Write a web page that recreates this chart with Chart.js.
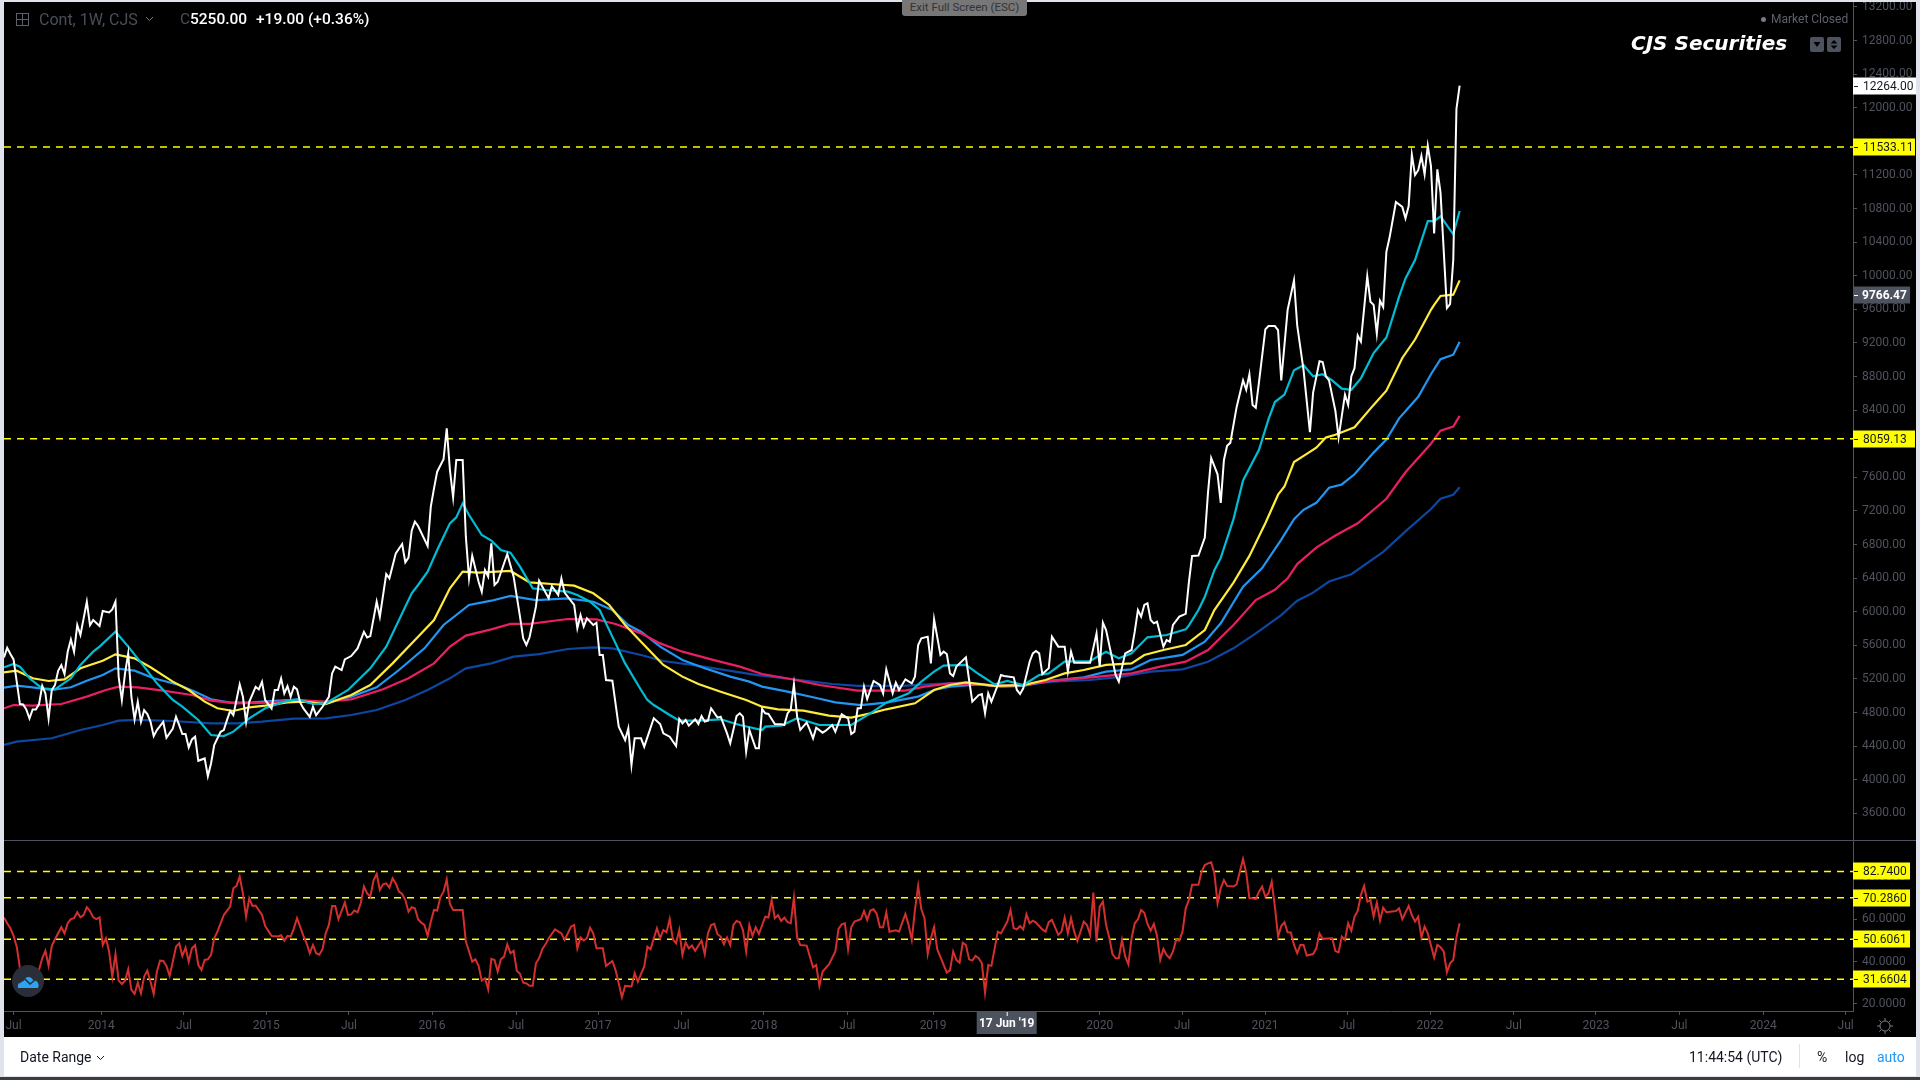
<!DOCTYPE html>
<html>
<head>
<meta charset="utf-8">
<title>CJS Securities</title>
<script src="https://cdn.jsdelivr.net/npm/chart.js@4"></script>
<style>
  html, body { margin: 0; width: 1920px; height: 1080px; overflow: hidden; background: #e0e3eb; }
  body { position: relative; font-family: Roboto, sans-serif; }
  canvas { position: absolute; }
  .lbl { position: absolute; white-space: nowrap; }
  #panel { position: absolute; left: 4px; top: 2px; width: 1912px; height: 1035px; background: #000; }
  #bar { position: absolute; left: 4px; top: 1037px; width: 1912px; height: 39px; background: #fff; }
  #strip { position: absolute; left: 0; top: 1077px; width: 1920px; height: 3px; background: #3a3c40; }
</style>
</head>
<body>
<div id="panel"></div>
<div id="bar"></div>
<div id="strip"></div>
<canvas id="priceChart" width="1912" height="839" style="left:4px;top:2px"></canvas>
<canvas id="rsiChart" width="1912" height="196" style="left:4px;top:841px"></canvas>

<!-- header -->
<svg class="lbl" style="left:16px;top:13px" width="13" height="13"><rect x="0.5" y="0.5" width="12" height="12" fill="none" stroke="#5d606b"/><path d="M6.5 1V12M1 6.5H12" stroke="#5d606b"/></svg>
<div class="lbl" style="left:39px;top:10px;font-size:16px;color:#4a4e59">Cont, 1W, CJS</div>
<svg class="lbl" style="left:145px;top:16px" width="9" height="6"><path d="M1 1L4.5 4.5L8 1" fill="none" stroke="#787b86"/></svg>
<div class="lbl" style="left:180px;top:10px;font-size:15.5px;color:#4a4e59">C</div>
<div class="lbl" style="left:190px;top:10px;font-size:15.5px;font-weight:500;color:#fff">5250.00</div>
<div class="lbl" style="left:256px;top:10px;font-size:15.5px;font-weight:500;color:#fff">+19.00 (+0.36%)</div>
<div class="lbl" style="left:902px;top:0;width:125px;height:16px;background:#777;border-radius:0 0 3px 3px;color:#333;font-size:11.5px;line-height:15px;text-align:center">Exit Full Screen (ESC)</div>
<div class="lbl" style="left:1761px;top:17px;width:5px;height:5px;border-radius:50%;background:#787b86"></div>
<div class="lbl" style="left:1771px;top:12px;font-size:12px;color:#5d606b">Market Closed</div>
<div class="lbl" style="left:1631px;top:31px;font-family:'DejaVu Sans';font-weight:bold;font-style:italic;font-size:20px;color:#fff">CJS Securities</div>
<svg class="lbl" style="left:1810px;top:37px" width="32" height="15">
  <rect width="14" height="15" rx="2" fill="#4c525e"/><path d="M3.5 5H10.5L7 10Z" fill="#000"/>
  <rect x="17" width="14" height="15" rx="2" fill="#4c525e"/><path d="M20.5 6.5H27.5L24 3ZM20.5 8.5H27.5L24 12Z" fill="#000"/>
</svg>

<!-- floating logo -->
<svg class="lbl" style="left:12px;top:965px" width="32" height="32">
  <circle cx="16" cy="16" r="16" fill="#2a2e39"/>
  <path d="M6 23C5 18 9 16 12 15C14 11 19 11 21 15C25 15 28 19 26 23Z" fill="#2ea3f2"/>
  <path d="M7 18L13 14L18 19L23 15" fill="none" stroke="#2a2e39" stroke-width="1.5"/>
</svg>

<!-- gear -->
<svg class="lbl" style="left:1876px;top:1017px" width="18" height="18">
  <circle cx="9" cy="9" r="5" fill="none" stroke="#787b86"/>
  <path d="M9 1V4M9 14V17M1 9H4M14 9H17M3.3 3.3L5.5 5.5M12.5 12.5L14.7 14.7M3.3 14.7L5.5 12.5M12.5 5.5L14.7 3.3" stroke="#787b86"/>
</svg>

<!-- footer -->
<div class="lbl" style="left:20px;top:1049px;font-size:14px;color:#131722">Date Range</div>
<svg class="lbl" style="left:96px;top:1055px" width="9" height="6"><path d="M1 1L4.5 4.5L8 1" fill="none" stroke="#131722"/></svg>
<div class="lbl" style="left:1689px;top:1049px;font-size:14px;color:#131722">11:44:54 (UTC)</div>
<div class="lbl" style="left:1799px;top:1044px;width:1px;height:24px;background:#e0e3eb"></div>
<div class="lbl" style="left:1817px;top:1049px;font-size:14px;color:#131722">%</div>
<div class="lbl" style="left:1845px;top:1049px;font-size:14px;color:#131722">log</div>
<div class="lbl" style="left:1877px;top:1049px;font-size:14px;color:#2196f3">auto</div>

<script>
// x axis is weeks counted from the first bar on the chart
const timeTickWeeks = [3, 30.5, 56.5, 82.3, 108.3, 134.4, 160.8, 186.5, 212.7, 238.6, 264.8, 291.7, 344, 369.9, 395.9, 421.7, 447.7, 474, 499.8, 526, 552.3, 578.2];
const timeTickLabels = ["Jul", "2014", "Jul", "2015", "Jul", "2016", "Jul", "2017", "Jul", "2018", "Jul", "2019", "2020", "Jul", "2021", "Jul", "2022", "Jul", "2023", "Jul", "2024", "Jul"];

const priceTicks = [3600, 4000, 4400, 4800, 5200, 5600, 6000, 6400, 6800, 7200, 7600, 8000, 8400, 8800, 9200, 9600, 10000, 10400, 10800, 11200, 12000, 12400, 12800, 13200];
const rsiTicks = [20, 40, 60, 80];

const priceLevels = [11533.11, 8059.13];
const rsiLevels = [82.74, 70.286, 50.6061, 31.6604];

const lastClose = 12264;
const ma2Last = 9766.47;

const priceWeeks = [0,1,2,3,5,6,7,8,9,10,11,12,13,14,15,16,17,18,19,20,21,22,23,24,25,26,27,28,30,31,33,34,35,36,37,38,39,40,41,42,43,44,45,46,47,48,50,51,53,54,55,56,57,58,59,60,61,63,64,65,66,68,69,70,71,72,74,75,76,77,79,80,81,82,84,85,86,87,88,89,90,91,92,93,94,96,97,98,100,102,103,104,106,107,109,111,113,114,115,117,118,120,121,123,125,126,127,128,129,130,133,134,135,136,138,139,140,141,142,144,145,146,147,149,150,151,152,153,154,155,158,160,161,162,163,164,165,167,168,171,172,174,175,176,179,180,181,182,183,185,186,187,188,189,191,193,195,196,197,198,200,201,204,206,207,209,211,212,213,214,215,217,218,219,220,221,222,224,225,227,228,230,231,232,233,234,236,237,238,239,240,242,244,245,246,247,248,249,250,252,253,254,255,257,258,260,261,263,265,266,267,268,269,270,271,273,275,276,277,279,280,281,283,285,286,287,288,290,291,292,294,295,296,297,298,299,302,303,304,306,307,308,309,310,312,313,314,317,318,319,320,322,323,324,325,326,328,329,331,333,334,335,336,341,343,344,345,346,348,349,350,352,354,355,356,357,358,359,360,361,362,364,365,366,367,369,371,372,373,375,377,378,379,381,382,383,384,385,387,389,390,391,392,393,394,396,397,399,400,401,403,405,406,408,410,411,413,414,415,416,418,419,421,422,423,424,425,426,428,429,430,431,432,433,434,435,437,439,440,441,442,443,444,445,446,447,448,449,450,451,453,454,455,456,457];
const priceValues = [5457,5572,5497,5433,4901,4897,4837,4730,4837,4837,4901,5119,5028,4730,5068,5127,5298,5365,5258,5524,5671,5524,5842,5723,5921,6120,5842,5901,5830,6009,5993,6028,6120,5226,4949,5266,5504,4988,4718,4929,4690,4829,4782,4690,4520,4591,4690,4500,4611,4750,4651,4544,4544,4385,4480,4512,4226,4254,4043,4194,4413,4571,4591,4710,4821,4770,5135,4988,4690,4929,5107,5076,5167,4949,4849,5068,5068,5207,5028,5115,4988,5107,5076,4917,4849,4750,4869,4770,4869,4988,5266,5346,5306,5433,5473,5564,5762,5695,5711,6120,5941,6450,6398,6696,6807,6589,6644,6966,7073,7021,6783,7251,7470,7668,7815,8184,7688,7362,7807,7807,6894,6398,6668,6358,6239,6497,6418,6815,6319,6358,6688,6418,6180,5942,5684,5605,5696,6061,6370,6160,6307,6200,6398,6228,6081,5803,5962,5823,5922,5843,5870,5485,5485,5188,5180,4632,4473,4612,4176,4494,4494,4394,4732,4664,4553,4513,4402,4724,4672,4712,4644,4720,4664,4759,4692,4704,4851,4740,4752,4553,4434,4759,4791,4752,4335,4593,4375,4375,4843,4791,4783,4664,4660,4652,4791,4839,5136,4752,4593,4680,4593,4494,4621,4561,4585,4652,4573,4779,4732,4545,4573,4851,4851,5109,4962,5176,5128,5029,5315,5029,5156,5069,5196,5148,5228,5605,5684,5704,5386,5910,5486,5525,5497,5267,5236,5347,5458,5188,4930,5009,5021,4791,5029,4930,5128,5247,5236,5220,5069,5021,5089,5406,5505,5533,5505,5259,5327,5704,5585,5585,5287,5525,5394,5394,5743,5347,5870,5783,5426,5247,5168,5505,5545,5763,6021,5942,6081,6101,5902,5862,5882,5585,5664,5644,5843,5942,5975,6349,6665,6670,6884,7418,7831,7637,7297,7807,7977,8011,8439,8755,8643,8828,8463,8429,8730,9362,9401,9401,9352,8755,9595,9945,9411,8876,8138,8609,8983,8973,8803,8755,8390,8074,8585,8463,8803,8900,9289,9216,9994,9692,9654,9313,9702,9629,10285,10455,10878,10820,10684,10830,11442,11199,11257,11427,11208,11549,11306,10504,11267,10990,9615,9663,10188,11986,12264];

const cyanWeeks = [0,3,5,8,12,16,21,24,28,30,35,39,44,48,53,56,61,65,69,72,77,82,88,92,97,101,108,115,120,128,130,133,136,140,142,144,146,150,153,156,159,162,166,170,177,180,184,187,191,195,200,202,204,209,212,218,225,231,238,239,244,249,256,266,272,277,284,288,292,295,302,306,311,315,320,325,328,333,341,346,350,354,359,365,371,372,375,377,380,382,386,389,394,397,399,402,405,408,411,414,417,420,423,426,430,434,438,440,443,447,449,451,455,457];
const cyanValues = [5339,5378,5347,5208,5089,5077,5208,5367,5525,5585,5763,5585,5347,5148,4950,4870,4712,4533,4521,4573,4732,4851,4930,4958,4902,4910,5069,5327,5585,6220,6319,6478,6735,7053,7124,7291,7152,6914,6847,6735,6704,6537,6279,6259,6239,6200,6120,6021,5704,5386,5069,4950,4890,4771,4704,4704,4720,4652,4593,4632,4644,4732,4652,4652,4791,4918,5029,5168,5287,5359,5367,5259,5136,5176,5128,5247,5267,5406,5414,5525,5446,5505,5696,5724,5791,5839,6021,6179,6495,6641,7103,7564,7929,8293,8497,8585,8876,8935,8803,8828,8755,8657,8643,8779,9080,9265,9751,9969,10188,10650,10650,10708,10494,10771];

const yellowWeeks = [0,4,9,14,19,24,31,35,41,46,53,58,63,67,72,77,82,89,94,101,109,115,122,130,135,140,144,149,159,165,172,179,185,190,195,200,204,207,213,218,225,233,238,243,251,259,266,272,277,286,292,297,302,311,320,327,333,339,346,354,358,364,371,377,380,386,391,396,400,402,405,409,412,415,418,424,430,434,439,443,448,449,451,455,457];
const yellowValues = [5279,5299,5208,5176,5196,5327,5418,5493,5446,5339,5168,5069,4930,4851,4819,4863,4882,4922,4930,4902,5009,5128,5386,5704,5902,6279,6478,6466,6486,6351,6331,6311,6220,6081,5843,5644,5486,5367,5228,5140,5049,4950,4870,4839,4823,4763,4740,4791,4839,4910,5069,5128,5160,5117,5128,5188,5267,5307,5367,5386,5486,5545,5605,5783,6021,6348,6665,7054,7394,7491,7783,7880,7953,8074,8108,8196,8463,8633,9022,9241,9595,9653,9760,9775,9945];

const blueWeeks = [0,4,9,15,21,26,31,35,41,47,55,60,65,71,78,86,92,101,109,117,124,132,138,146,153,159,167,177,185,191,196,200,206,213,220,228,234,238,246,254,261,269,277,287,292,297,306,313,320,327,333,339,346,354,360,370,377,382,389,395,401,405,408,412,416,420,424,430,434,438,444,448,451,455,457];
const blueValues = [5097,5120,5101,5069,5101,5180,5248,5327,5299,5208,5128,5049,4958,4918,4922,4942,4954,4910,4990,5101,5307,5565,5843,6081,6132,6188,6140,6160,6120,6021,5843,5763,5585,5426,5327,5228,5168,5109,5049,4982,4922,4890,4918,4990,5069,5109,5136,5109,5117,5168,5196,5220,5287,5315,5426,5486,5644,5863,6299,6520,6860,7103,7214,7297,7477,7516,7637,7895,8050,8303,8560,8828,9008,9061,9216];

const pinkWeeks = [0,3,9,18,26,32,36,42,50,59,65,73,83,92,101,109,119,127,135,140,145,153,159,165,177,186,192,200,206,213,222,231,238,247,256,268,283,289,297,306,311,320,329,338,346,354,363,371,378,386,393,399,403,406,412,418,425,434,440,448,451,455,457];
const pinkValues = [4851,4890,4882,4902,4990,5069,5109,5101,5061,5009,4942,4910,4918,4950,4930,4958,5077,5208,5386,5585,5716,5791,5855,5855,5914,5910,5855,5743,5624,5525,5434,5347,5259,5200,5128,5061,5061,5109,5148,5136,5117,5128,5180,5208,5236,5267,5347,5406,5545,5843,6140,6262,6398,6568,6763,6908,7054,7346,7661,8001,8157,8206,8332];

const navyWeeks = [0,4,15,24,31,36,42,53,65,73,81,91,101,109,117,126,133,140,145,153,160,168,177,185,191,200,207,216,225,236,248,260,268,282,292,301,311,320,329,341,351,360,370,378,386,393,401,406,411,416,423,433,440,448,451,455,457];
const navyValues = [4414,4454,4494,4593,4652,4704,4712,4700,4672,4672,4692,4728,4732,4771,4831,4950,5069,5208,5327,5386,5466,5497,5557,5577,5565,5486,5414,5367,5315,5248,5196,5140,5117,5117,5140,5156,5128,5128,5168,5188,5228,5287,5315,5406,5565,5743,5960,6131,6228,6360,6447,6714,6957,7224,7346,7394,7482];

const rsiWeeks = [0,1,2,3,4,5,6,7,8,9,10,11,12,13,14,15,16,18,19,20,21,22,23,24,25,26,27,28,29,30,31,32,33,34,35,36,37,38,39,40,41,42,43,44,45,46,47,48,49,50,51,52,53,54,55,56,57,58,59,60,61,62,63,64,65,66,67,69,71,72,73,74,75,76,77,78,79,81,82,84,86,87,88,89,90,91,92,94,95,96,97,98,99,100,101,102,103,104,105,107,108,109,110,111,112,113,114,115,116,117,118,119,120,121,122,123,124,125,126,127,128,129,130,131,132,133,134,135,136,137,138,139,140,141,144,145,146,147,148,149,150,151,152,153,154,155,156,157,158,159,160,161,162,163,164,165,166,167,168,169,170,171,173,175,176,177,178,179,180,181,182,183,184,185,186,188,189,191,192,193,194,195,197,198,199,200,201,202,203,204,205,206,207,208,209,210,211,212,213,214,215,216,217,219,220,221,222,223,224,225,226,227,228,229,230,231,232,233,234,235,236,237,239,240,241,242,243,244,245,246,247,248,249,250,252,254,255,256,257,259,261,262,263,264,265,266,267,269,270,271,272,273,274,275,276,277,278,280,281,283,284,285,286,287,288,289,290,291,292,293,296,297,298,299,300,301,302,303,304,305,306,307,308,309,310,312,313,315,316,317,318,319,320,321,322,323,324,326,327,328,329,331,332,333,334,335,336,337,339,340,341,342,343,344,345,346,347,348,349,350,351,352,353,354,355,356,357,358,359,360,361,362,363,364,365,366,367,368,369,370,371,372,373,375,376,377,378,379,380,381,382,383,384,386,387,388,389,390,391,392,393,394,395,396,397,398,399,400,401,402,403,404,405,406,407,408,409,411,412,413,414,417,418,419,420,421,422,423,424,425,426,427,428,429,430,431,432,433,434,437,438,439,441,442,443,444,445,446,447,449,450,451,452,453,454,455,456,457];
const rsiValues = [60.9,58.2,55.8,52.2,47.1,36.9,34,32,29,32,33,36.1,41.6,45.1,38,47.4,50.6,56.3,53.4,58.2,60.2,60.6,63.4,61,62.1,65.8,64,61,60.2,61,47.9,51.1,44.8,32.9,43.6,31,29.4,31,36.4,26.6,24.7,30.1,25,32.9,35.7,30.5,24.7,35.3,40.5,40.3,38,33.2,40,47.1,48.7,42.7,46.6,40,46.3,47.8,38.4,36.1,40.8,41.1,43.2,51.1,54.2,62.1,66.1,74.8,75.9,80.3,72.4,61.3,70,66.4,66.6,62.1,56.9,52.2,51.9,52.5,50,52.2,51.9,55.8,60.6,52.2,48.7,44,47.9,44,43.3,45.9,53.4,57.4,66.4,66.4,60.1,68,62.1,62.4,64.2,63.4,67.7,75.6,72.4,70.8,78.4,81.6,74,76.7,77.1,75.1,79.5,77.1,73.2,72.1,69.2,63.7,65.8,65.3,60.1,58.5,57.4,52.2,59,64.5,64.2,70.5,73.2,79,67.4,64.5,64.5,49.5,44.8,40,41.1,38,31,32.1,26.9,41.3,40.8,35.3,41.1,42.4,48.2,44,45.1,35.7,34.2,30,29.7,28.6,28.6,39.2,41.6,45.9,48.2,51.1,55.3,53.4,50.3,53.4,56.6,57.4,46.3,51.5,50,51.1,56.1,53.4,46.3,46.3,38,40.3,36,29.7,23.1,28.5,28.2,34.5,30.5,34.2,37.6,47.1,45.9,51.1,55.8,51.1,55,53.9,60.2,50.6,48.7,55,43.2,49.2,46.3,47.6,45.1,50,43.5,53.4,57.4,57.9,53,51.9,48.2,51.5,47.9,57.4,59.3,58.7,55,44.8,57.4,52.2,56.3,53.1,61.3,60.9,69.2,60.6,62.1,59.3,60.9,58.7,58.2,70.4,51.5,47.9,47.6,37.3,38.4,28.5,35.3,38.7,44.8,55.5,57.7,58.2,45.9,56.3,59,60.1,64,59.8,64.2,64.8,62.6,56.3,56.3,63.4,54.2,54.9,54.2,62.6,57.4,50.3,64.5,75.9,64.8,60.6,43.6,51.1,56.3,45.9,34.8,36,44.8,40.8,39.5,49,47.9,41.1,40.5,42.7,41.6,39.2,25.3,38.4,38,54.2,53.4,59,64.5,55.8,55.3,56.9,55.3,62.5,58.2,59.4,58.5,55.3,54.2,58.7,59.8,52.7,54.2,60.9,53.4,60.6,54.2,49.8,59,57.4,52.7,72.7,49.5,66.1,68.5,57.4,51.5,43.6,41.6,41.6,50.3,42.4,38.7,51.1,58.2,60.1,64.5,63.2,57.9,54.7,57.9,52.2,40.8,46,43.2,41.6,44.8,50.3,50,54.2,65.3,69.2,76.4,76.4,82.7,85.8,86.6,87.1,81.9,67.7,74.8,78.7,75.9,75.6,76.7,82.7,88.7,82.2,70,70,69.7,73.2,75.6,70.8,72.4,77.9,66.1,51.9,56.9,58.7,53.9,53.8,47.9,44,47.9,47.9,42.9,43.6,46.3,53.4,50.8,51.1,45,44.4,51.9,50.3,58.2,54.6,61.3,64,71.6,75.9,68.5,69.2,61.3,68,59.4,65.6,63.4,64,65.3,60.1,66.4,62.1,59,61.3,51.5,56.6,53.4,42,47.9,46.8,44.8,35,39.2,40.8,51.5,58.2];

const axisText = "#50535e";
const axisLine = "#50535e";
const tickFont = { family: "Roboto", size: 12 };
const xMax = 580.5;

function toPoints(weeks, values) {
  return weeks.map((w, i) => ({ x: w, y: values[i] }));
}

function lineSet(weeks, values, color, width) {
  return { data: toPoints(weeks, values), borderColor: color, borderWidth: width, pointRadius: 0, tension: 0, fill: false };
}

function levelSet(value) {
  return { data: [{ x: 0, y: value }, { x: xMax, y: value }], borderColor: "#ffff00", borderWidth: 1.6, borderDash: [7, 6], pointRadius: 0, fill: false };
}

// stop chart.js shrinking the plot to make room for half a tick label
function noEdgePadding(s) {
  s.paddingTop = 0;
  s.paddingBottom = 0;
  s.paddingLeft = 0;
  s.paddingRight = 0;
}

// price tags sit on the y axis, drawn after the ticks so they cover them
function tagPlugin(tags) {
  return {
    id: "tags",
    afterDraw(chart) {
      const ctx = chart.ctx;
      const y = chart.scales.y;
      ctx.save();
      tags.forEach(t => {
        const py = Math.round(y.getPixelForValue(t.value));
        ctx.fillStyle = t.bg;
        ctx.fillRect(y.left, py - 8.5, t.w, 17);
        ctx.fillStyle = t.color;
        ctx.fillRect(y.left + 1, py, 4, 1);
        ctx.font = (t.bold ? "bold " : "") + "12px Roboto";
        ctx.textAlign = "left";
        ctx.textBaseline = "middle";
        ctx.fillText(t.text, y.left + (t.bold ? 9 : 10), py + 0.5);
      });
      ctx.restore();
    }
  };
}

const priceTags = priceLevels.map(v => ({ value: v, text: v.toFixed(2), bg: "#ffff00", color: "#131722", w: 62 }));
priceTags.push({ value: lastClose, text: lastClose.toFixed(2), bg: "#ffffff", color: "#131722", w: 63 });
priceTags.push({ value: ma2Last, text: ma2Last.toFixed(2), bg: "#4c525e", color: "#ffffff", w: 57, bold: true });

new Chart("priceChart", {
  type: "line",
  data: {
    datasets: [
      lineSet(priceWeeks, priceValues, "#ffffff", 2),
      levelSet(priceLevels[0]),
      levelSet(priceLevels[1]),
      lineSet(cyanWeeks, cyanValues, "#00bcd4", 2.2),
      lineSet(yellowWeeks, yellowValues, "#ffeb3b", 2.2),
      lineSet(pinkWeeks, pinkValues, "#e91e63", 2.2),
      lineSet(blueWeeks, blueValues, "#2196f3", 2.2),
      lineSet(navyWeeks, navyValues, "#0d47a1", 2.2)
    ]
  },
  options: {
    responsive: false,
    animation: false,
    devicePixelRatio: 1,
    layout: { padding: 0 },
    plugins: { legend: { display: false }, tooltip: { enabled: false } },
    scales: {
      x: { type: "linear", min: 0, max: xMax, display: false },
      y: {
        position: "right",
        min: 3271.2,
        max: 13259.5,
        afterFit(s) { s.width = 63; noEdgePadding(s); },
        afterBuildTicks(s) { s.ticks = priceTicks.map(v => ({ value: v })); },
        border: { color: axisLine },
        grid: { drawOnChartArea: false, tickLength: 4, tickColor: axisLine },
        ticks: { color: axisText, font: tickFont, padding: 5, callback: v => v.toFixed(2) }
      }
    }
  },
  plugins: [tagPlugin(priceTags), {
    id: "paneEdge",
    afterDraw(chart) {
      const ctx = chart.ctx;
      ctx.fillStyle = axisLine;
      ctx.fillRect(0, chart.height - 1, chart.width, 1);
    }
  }]
});

const rsiTags = rsiLevels.map(v => ({ value: v, text: v.toFixed(4), bg: "#ffff00", color: "#131722", w: 57 }));
const crossLabel = "17 Jun '19";
const crossWeek = 314.8;

new Chart("rsiChart", {
  type: "line",
  data: {
    datasets: [
      lineSet(rsiWeeks, rsiValues, "#d32f2f", 2),
      levelSet(rsiLevels[0]),
      levelSet(rsiLevels[1]),
      levelSet(rsiLevels[2]),
      levelSet(rsiLevels[3])
    ]
  },
  options: {
    responsive: false,
    animation: false,
    devicePixelRatio: 1,
    layout: { padding: 0 },
    plugins: { legend: { display: false }, tooltip: { enabled: false } },
    scales: {
      x: {
        type: "linear",
        min: 0,
        max: xMax,
        afterFit(s) { s.height = 26; noEdgePadding(s); },
        afterBuildTicks(s) { s.ticks = timeTickWeeks.map(v => ({ value: v })); },
        border: { color: axisLine },
        grid: { drawOnChartArea: false, tickLength: 4, tickColor: axisLine },
        ticks: {
          color: axisText,
          font: tickFont,
          padding: 4,
          maxRotation: 0,
          autoSkip: false,
          callback: (v, i) => timeTickLabels[i]
        }
      },
      y: {
        position: "right",
        min: 16.6,
        max: 97.2,
        afterFit(s) { s.width = 63; noEdgePadding(s); },
        afterBuildTicks(s) { s.ticks = rsiTicks.map(v => ({ value: v })); },
        border: { color: axisLine },
        grid: { drawOnChartArea: false, tickLength: 4, tickColor: axisLine },
        ticks: { color: axisText, font: tickFont, padding: 5, callback: v => v.toFixed(4) }
      }
    }
  },
  plugins: [tagPlugin(rsiTags), {
    id: "crossDate",
    afterDraw(chart) {
      const ctx = chart.ctx;
      const px = chart.scales.x.getPixelForValue(crossWeek);
      const top = chart.chartArea.bottom + 1;
      ctx.save();
      ctx.fillStyle = "#4c525e";
      ctx.fillRect(px - 30, top, 60, 22);
      ctx.fillStyle = "#ffffff";
      ctx.fillRect(px, top, 1, 4);
      ctx.font = "bold 12px Roboto";
      ctx.textAlign = "center";
      ctx.textBaseline = "middle";
      ctx.fillText(crossLabel, px, top + 12);
      ctx.restore();
    }
  }]
});
</script>
</body>
</html>
